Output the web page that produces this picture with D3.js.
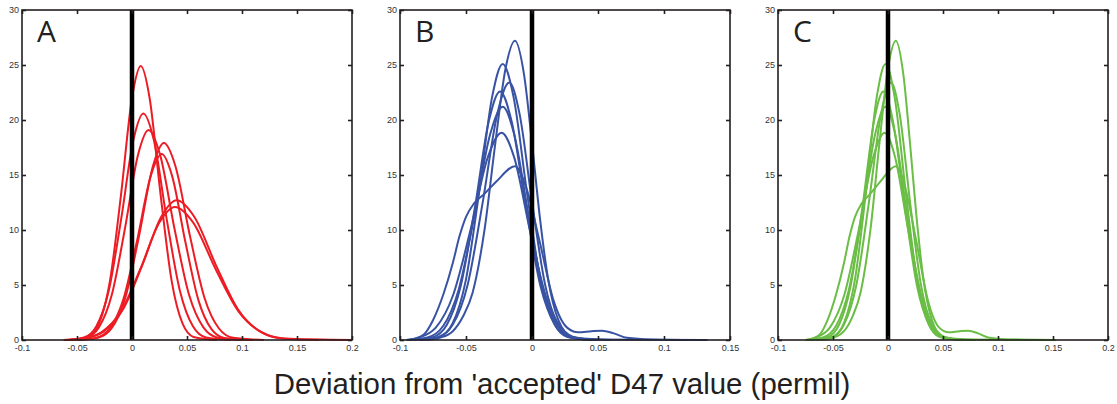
<!DOCTYPE html>
<html>
<head>
<meta charset="utf-8">
<script src="https://cdn.jsdelivr.net/npm/d3@7"></script>
<style>
  body { margin: 0; background: #fff; }
  svg { display: block; font-family: "Liberation Sans", Arial, sans-serif; }
</style>
</head>
<body>
<svg id="chart" width="1117" height="404"></svg>
<script>
// panel letters and axis ranges
var panelLetters = ["A", "B", "C"];
var xDomainA = [-0.1, 0.2], xDomainB = [-0.1, 0.15], xDomainC = [-0.1, 0.2];
var xTicksA = [-0.1, -0.05, 0, 0.05, 0.1, 0.15, 0.2];
var xTicksB = [-0.1, -0.05, 0, 0.05, 0.1, 0.15];
var xTicksC = [-0.1, -0.05, 0, 0.05, 0.1, 0.15, 0.2];
var yTicks = [0, 5, 10, 15, 20, 25, 30];
var axisTitle = "Deviation from 'accepted' D47 value (permil)";

// density curves, [deviation, density]
var curvesA = [
  [[-0.055,0],[-0.04,0.28],[-0.03,1.48],[-0.02,5.4],[-0.01,13.2],[0,22.0],[0.008,24.9],[0.016,22.0],[0.026,13.2],[0.036,5.4],[0.046,1.48],[0.056,0.28],[0.077,0]],
  [[-0.058,0],[-0.0437,0.23],[-0.0325,1.24],[-0.0212,4.45],[-0.01,10.9],[0.0013,18.2],[0.0103,20.6],[0.0198,18.2],[0.0317,10.9],[0.0436,4.45],[0.0554,1.24],[0.0673,0.23],[0.09,0]],
  [[-0.058,0],[-0.042,0.21],[-0.0301,1.15],[-0.0183,4.13],[-0.0064,10.14],[0.0055,16.85],[0.015,19.1],[0.0255,16.85],[0.0386,10.14],[0.0518,4.13],[0.0649,1.15],[0.078,0.21],[0.1,0]],
  [[-0.05,0],[-0.031,0.2],[-0.0185,1.07],[-0.006,3.87],[0.0065,9.5],[0.019,15.8],[0.029,17.9],[0.0395,15.8],[0.0526,9.5],[0.0658,3.87],[0.0789,1.07],[0.092,0.2],[0.12,0]],
  [[-0.05,0],[-0.033,0.19],[-0.0205,1.01],[-0.008,3.65],[0.0045,8.97],[0.017,14.9],[0.027,16.9],[0.0365,14.9],[0.0484,8.97],[0.0603,3.65],[0.0721,1.01],[0.084,0.19],[0.11,0]],
  [[-0.062,0],[-0.0434,0.14],[-0.026,0.76],[-0.0084,2.74],[0.0091,6.74],[0.0266,11.2],[0.0406,12.7],[0.0566,11.2],[0.0766,6.74],[0.0966,2.74],[0.1166,0.76],[0.1366,0.14],[0.17,0]],
  [[-0.062,0],[-0.045,0.13],[-0.0275,0.73],[-0.01,2.61],[0.0075,6.43],[0.025,10.7],[0.039,12.1],[0.0555,10.7],[0.0761,6.43],[0.0968,2.61],[0.1174,0.73],[0.138,0.13],[0.2,0]]
];
var curvesB = [
  [[-0.08,0],[-0.07,0.2],[-0.06,0.8],[-0.052,2.2],[-0.045,4.3],[-0.036,10],[-0.028,17.7],[-0.02,24.7],[-0.0129,27.2],[-0.006,24.1],[0,17.9],[0.006,11.1],[0.012,5.7],[0.02,1.8],[0.03,0.3],[0.045,0.05],[0.13,0]],
  [[-0.085,0],[-0.0702,0.28],[-0.0602,1.5],[-0.0502,5.4],[-0.0402,13.3],[-0.0302,22.1],[-0.0222,25.1],[-0.014,22.1],[-0.0037,13.3],[0.0065,5.4],[0.0168,1.5],[0.027,0.28],[0.045,0]],
  [[-0.085,0],[-0.0712,0.26],[-0.06,1.4],[-0.0487,5.05],[-0.0375,12.4],[-0.0262,20.6],[-0.0172,23.4],[-0.0095,20.6],[0.0002,12.4],[0.0099,5.05],[0.0196,1.4],[0.0293,0.26],[0.045,0]],
  [[-0.09,0],[-0.0752,0.25],[-0.0646,1.36],[-0.054,4.9],[-0.0433,12],[-0.0327,19.9],[-0.0242,22.6],[-0.0155,19.9],[-0.0045,12],[0.0064,4.9],[0.0174,1.36],[0.0283,0.25],[0.05,0]],
  [[-0.095,0],[-0.0792,0.23],[-0.0673,1.27],[-0.0555,4.6],[-0.0436,11.3],[-0.0317,18.7],[-0.0222,21.2],[-0.0135,18.7],[-0.0025,11.3],[0.0084,4.6],[0.0194,1.27],[0.0303,0.23],[0.05,0]],
  [[-0.095,0],[-0.086,0.21],[-0.0729,1.13],[-0.0598,4.07],[-0.0466,10],[-0.0335,16.6],[-0.023,18.85],[-0.0135,16.6],[-0.0016,10],[0.0103,4.07],[0.0221,1.13],[0.034,0.21],[0.06,0]],
  [[-0.093,0],[-0.082,0.5],[-0.075,1.8],[-0.067,4.2],[-0.06,7],[-0.055,9.4],[-0.05,11.2],[-0.044,12.4],[-0.036,13.3],[-0.027,14.4],[-0.0129,15.8],[-0.0045,13.9],[0.0059,8.9],[0.0163,3.6],[0.0268,1.1],[0.035,0.7],[0.045,0.8],[0.053,0.85],[0.062,0.6],[0.072,0.2],[0.09,0.05],[0.133,0]]
];
var curvesC = [
  [[-0.06,0],[-0.05,0.2],[-0.04,0.8],[-0.032,2.2],[-0.025,4.3],[-0.016,10],[-0.008,17.7],[0,24.7],[0.0071,27.2],[0.014,24.1],[0.02,17.9],[0.026,11.1],[0.032,5.7],[0.04,1.8],[0.05,0.3],[0.065,0.05],[0.15,0]],
  [[-0.065,0],[-0.0502,0.28],[-0.0402,1.5],[-0.0302,5.4],[-0.0202,13.3],[-0.0102,22.1],[-0.0022,25.1],[0.006,22.1],[0.0163,13.3],[0.0265,5.4],[0.0368,1.5],[0.047,0.28],[0.065,0]],
  [[-0.065,0],[-0.0512,0.26],[-0.04,1.4],[-0.0287,5.05],[-0.0175,12.4],[-0.0062,20.6],[0.0028,23.4],[0.0105,20.6],[0.0202,12.4],[0.0299,5.05],[0.0396,1.4],[0.0493,0.26],[0.065,0]],
  [[-0.07,0],[-0.0552,0.25],[-0.0446,1.36],[-0.034,4.9],[-0.0233,12],[-0.0127,19.9],[-0.0042,22.6],[0.0045,19.9],[0.0155,12],[0.0264,4.9],[0.0374,1.36],[0.0483,0.25],[0.07,0]],
  [[-0.075,0],[-0.0592,0.23],[-0.0473,1.27],[-0.0355,4.6],[-0.0236,11.3],[-0.0117,18.7],[-0.0022,21.2],[0.0065,18.7],[0.0175,11.3],[0.0284,4.6],[0.0394,1.27],[0.0503,0.23],[0.07,0]],
  [[-0.075,0],[-0.066,0.21],[-0.0529,1.13],[-0.0398,4.07],[-0.0266,10],[-0.0135,16.6],[-0.003,18.85],[0.0065,16.6],[0.0184,10],[0.0303,4.07],[0.0421,1.13],[0.054,0.21],[0.08,0]],
  [[-0.073,0],[-0.062,0.5],[-0.055,1.8],[-0.047,4.2],[-0.04,7],[-0.035,9.4],[-0.03,11.2],[-0.024,12.4],[-0.016,13.3],[-0.007,14.4],[0.0071,15.8],[0.0155,13.9],[0.0259,8.9],[0.0363,3.6],[0.0468,1.1],[0.055,0.7],[0.065,0.8],[0.073,0.85],[0.082,0.6],[0.092,0.2],[0.11,0.05],[0.153,0]]
];

var panels = [
  { letter: panelLetters[0], domain: xDomainA, ticks: xTicksA, curves: curvesA, color: "#ed1c24", left: 22 },
  { letter: panelLetters[1], domain: xDomainB, ticks: xTicksB, curves: curvesB, color: "#3953a4", left: 400 },
  { letter: panelLetters[2], domain: xDomainC, ticks: xTicksC, curves: curvesC, color: "#6abd45", left: 778 }
];

var svg = d3.select("#chart");
var plotTop = 10, plotW = 330, plotH = 330;
var ink = "#231f20";

var y = d3.scaleLinear().domain([0, 30]).range([plotH, 0]);

panels.forEach(function (p) {
  var x = d3.scaleLinear().domain(p.domain).range([0, plotW]);
  var g = svg.append("g").attr("transform", "translate(" + p.left + "," + plotTop + ")");

  // curves
  var line = d3.line()
    .x(function (d) { return x(d[0]); })
    .y(function (d) { return y(d[1]); })
    .curve(d3.curveMonotoneX);
  g.selectAll("path.kde")
    .data(p.curves)
    .join("path")
    .attr("class", "kde")
    .attr("d", line)
    .attr("fill", "none")
    .attr("stroke", p.color)
    .attr("stroke-width", 2);

  // thick zero line on top of the curves
  g.append("line")
    .attr("x1", x(0)).attr("x2", x(0))
    .attr("y1", y(0)).attr("y2", y(30))
    .attr("stroke", "#000")
    .attr("stroke-width", 4.5);

  // axes, ticks inside the box
  var fmt = function (d) { return String(d); };
  var bottom = g.append("g").attr("transform", "translate(0," + plotH + ")")
    .call(d3.axisBottom(x).tickValues(p.ticks).tickFormat(fmt).tickSizeInner(-4).tickSizeOuter(0).tickPadding(5));
  var topAx = g.append("g")
    .call(d3.axisTop(x).tickValues(p.ticks).tickFormat("").tickSizeInner(-4).tickSizeOuter(0));
  var leftAx = g.append("g")
    .call(d3.axisLeft(y).tickValues(yTicks).tickFormat(fmt).tickSizeInner(-4).tickSizeOuter(0).tickPadding(3));
  var rightAx = g.append("g").attr("transform", "translate(" + plotW + ",0)")
    .call(d3.axisRight(y).tickValues(yTicks).tickFormat("").tickSizeInner(-4).tickSizeOuter(0));

  [bottom, topAx, leftAx, rightAx].forEach(function (a) {
    a.select(".domain").remove();
    a.selectAll(".tick line").attr("stroke", ink).attr("stroke-width", 1.6);
    a.selectAll(".tick text")
      .attr("fill", "#333")
      .style("font-size", "9px")
      .style("font-family", "'Liberation Sans', Arial, sans-serif");
  });

  // frame
  g.append("rect")
    .attr("width", plotW).attr("height", plotH)
    .attr("fill", "none")
    .attr("stroke", ink)
    .attr("stroke-width", 1.6);

  // panel letter
  g.append("text")
    .attr("x", 15).attr("y", 32)
    .attr("fill", ink)
    .style("font-family", "'Open Sans', Lato, sans-serif")
    .style("font-size", "30px")
    .text(p.letter);
});

svg.append("text")
  .attr("x", 562).attr("y", 394)
  .attr("text-anchor", "middle")
  .attr("fill", ink)
  .style("font-size", "29.4px")
  .text(axisTitle);
</script>
</body>
</html>
